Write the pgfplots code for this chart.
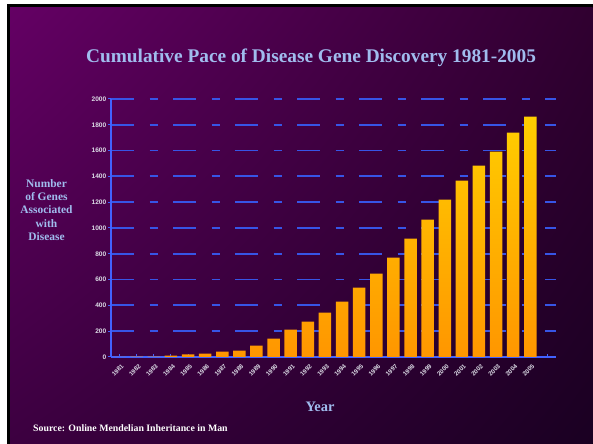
\documentclass[border=0pt]{standalone}
\usepackage{fontspec}
\setmainfont{Liberation Serif}
\newfontfamily\arialfont{Liberation Sans}
\usepackage{pgfplots}
\pgfplotsset{compat=1.18}
\usetikzlibrary{shadings}

\definecolor{bgUL}{RGB}{100,0,100}
\definecolor{bgUR}{RGB}{48,0,48}
\definecolor{bgLL}{RGB}{60,0,64}
\definecolor{bgLR}{RGB}{26,0,34}
\definecolor{titleblue}{RGB}{160,188,238}
\definecolor{gridblue}{RGB}{55,85,230}
\definecolor{axisblue}{RGB}{66,98,255}
\definecolor{baryellow}{RGB}{255,206,0}
\definecolor{barorange}{RGB}{255,150,0}
\definecolor{ticklbl}{RGB}{220,220,230}

\begin{document}
\begin{tikzpicture}
\useasboundingbox[fill=white] (0,0) rectangle (593bp,444bp);
\fill[black] (7bp,0) rectangle (592.5bp,440bp);
\shade[upper left=bgUL, upper right=bgUR, lower left=bgLL, lower right=bgLR]
  (10bp,0) rectangle (592.5bp,436bp);

\node[font=\bfseries\fontsize{19.4}{22}\selectfont, text=titleblue]
  at (311bp,386bp) {Cumulative Pace of Disease Gene Discovery 1981-2005};
\node[font=\bfseries\fontsize{11.5}{13.3}\selectfont, text=titleblue, align=center]
  at (46.5bp,234bp) {Number\\of Genes\\Associated\\with\\Disease};
\node[font=\bfseries\fontsize{14.5}{16}\selectfont, text=titleblue]
  at (320bp,37bp) {Year};
\node[font=\bfseries\fontsize{9.85}{11}\selectfont, text=white, anchor=west, inner sep=0pt]
  at (33bp,16bp) {Source: Online Mendelian Inheritance in Man};

\begin{axis}[
  at={(111bp,87bp)}, anchor=south west,
  scale only axis, width=445bp, height=258bp,
  xmin=1980.5, xmax=2006.5, ymin=0, ymax=2000,
  axis x line=bottom, axis y line=left,
  axis line style={-, axisblue, line width=1.5bp},
  xtick={1981,...,2006},
  xticklabels={1981,1982,1983,1984,1985,1986,1987,1988,1989,1990,1991,1992,1993,
    1994,1995,1996,1997,1998,1999,2000,2001,2002,2003,2004,2005,{}},
  minor x tick num=1,
  xtick align=inside, ytick align=outside,
  major tick length=3bp, minor tick length=3bp,
  every tick/.style={axisblue, line width=1bp},
  ytick={0,200,...,2000},
  scaled y ticks=false,
  ymajorgrids,
  grid style={gridblue, line width=1.8bp, dash pattern=on 23bp off 15.5bp on 8bp off 15.5bp},
  /pgf/number format/1000 sep={},
  /pgf/number format/assume math mode=true,
  ticklabel style={text=ticklbl},
  xticklabel style={font=\arialfont\bfseries\fontsize{6.2}{7}\selectfont,
    xshift=1.5bp, yshift=-6bp, rotate=45, anchor=north east, inner sep=0.5pt},
  yticklabel style={font=\arialfont\bfseries\fontsize{6.6}{7}\selectfont, inner sep=1.5pt},
]
\addplot[ybar, bar width=12.5bp, draw=none, top color=baryellow, bottom color=barorange]
  coordinates {
  (1981,1) (1982,2) (1983,3) (1984,11) (1985,20) (1986,26) (1987,41) (1988,49)
  (1989,88) (1990,142) (1991,212) (1992,274) (1993,344) (1994,429) (1995,537)
  (1996,646) (1997,770) (1998,917) (1999,1065) (2000,1220) (2001,1367)
  (2002,1483) (2003,1592) (2004,1739) (2005,1863)
  };
\end{axis}
\end{tikzpicture}
\end{document}
